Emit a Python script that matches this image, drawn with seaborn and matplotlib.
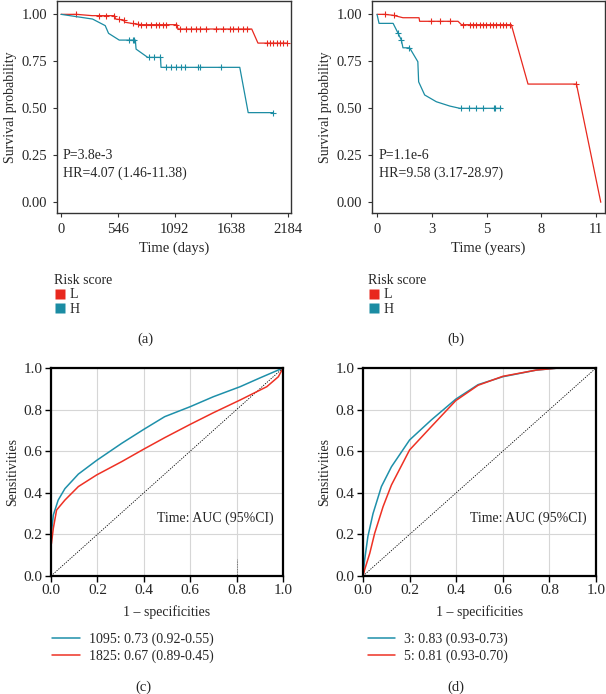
import numpy as np
import pandas as pd
import matplotlib
matplotlib.use("Agg")
import matplotlib.pyplot as plt
from matplotlib.lines import Line2D
import seaborn as sns

# ---- KM panel (a): days ----
a_L_time = [0, 150, 300, 515, 525, 600, 615, 700, 770, 1115, 1125, 1835, 1895, 2171]
a_L_surv = [1.0, 1.0, 0.993, 0.993, 0.975, 0.97, 0.958, 0.95, 0.945, 0.945, 0.922, 0.922, 0.847, 0.847]
a_L_cens_t = [142, 367, 432, 512, 560, 609, 689, 737, 770, 818, 867, 915, 947, 979, 1012, 1108,
              1140, 1205, 1253, 1301, 1334, 1398, 1495, 1559, 1624, 1656, 1704, 1753, 1785,
              1978, 2010, 2042, 2075, 2107, 2139, 2171]
a_L_cens_s = [1.0, 0.993, 0.993, 0.993, 0.975, 0.97, 0.952, 0.948, 0.945, 0.945, 0.945, 0.945, 0.945, 0.945, 0.945, 0.945,
              0.922, 0.922, 0.922, 0.922, 0.922, 0.922, 0.922, 0.922, 0.922, 0.922, 0.922, 0.922, 0.922,
              0.847, 0.847, 0.847, 0.847, 0.847, 0.847, 0.847]

a_H_time = [0, 303, 425, 457, 560, 715, 722, 834, 957, 962, 1720, 1801, 2042]
a_H_surv = [1.0, 0.975, 0.94, 0.899, 0.863, 0.863, 0.815, 0.771, 0.771, 0.718, 0.718, 0.477, 0.477]
a_H_cens_t = [657, 689, 705, 850, 899, 957, 1012, 1060, 1108, 1157, 1189, 1317, 1334, 1543, 2042]
a_H_cens_s = [0.863, 0.863, 0.863, 0.771, 0.771, 0.771, 0.718, 0.718, 0.718, 0.718, 0.718, 0.718, 0.718, 0.718, 0.477]

# ---- KM panel (b): years ----
b_L_time = [0, 0.38, 0.8, 1.29, 2.09, 2.12, 4.03, 4.20, 6.68, 7.51, 9.92, 11.13]
b_L_surv = [1.0, 1.0, 0.995, 0.982, 0.982, 0.963, 0.963, 0.945, 0.945, 0.629, 0.629, 0.0]
b_L_cens_t = [0.38, 0.83, 2.70, 3.12, 3.62, 4.28, 4.61, 4.78, 4.94, 5.11, 5.27, 5.44, 5.60,
              5.77, 5.94, 6.10, 6.27, 6.43, 6.60, 9.92]
b_L_cens_s = [1.0, 0.995, 0.963, 0.963, 0.963, 0.945, 0.945, 0.945, 0.945, 0.945, 0.945, 0.945, 0.945,
              0.945, 0.945, 0.945, 0.945, 0.945, 0.945, 0.629]

b_H_time = [0, 0.10, 0.80, 1.05, 1.21, 1.29, 1.62, 2.03, 2.07, 2.37, 2.95, 3.62, 4.12, 6.18]
b_H_surv = [1.0, 0.952, 0.952, 0.899, 0.863, 0.822, 0.822, 0.748, 0.641, 0.571, 0.535, 0.512, 0.50, 0.50]
b_H_cens_t = [1.05, 1.21, 1.60, 4.20, 4.56, 4.94, 5.27, 5.80, 5.89, 6.10]
b_H_cens_s = [0.899, 0.863, 0.822, 0.50, 0.50, 0.50, 0.50, 0.50, 0.50, 0.50]

b_tick_pos = [0, 2.73, 5.45, 8.18, 10.9]
b_tick_lab = ["0", "3", "5", "8", "11"]

# ---- ROC panel (c) ----
c1_fpr = [0, 0, 0.003, 0.01, 0.031, 0.06, 0.118, 0.197, 0.305, 0.4, 0.49, 0.6, 0.7, 0.815, 0.9, 1.0]
c1_tpr = [0, 0.17, 0.221, 0.293, 0.365, 0.42, 0.49, 0.556, 0.638, 0.705, 0.766, 0.814, 0.862, 0.91, 0.952, 1.0]
c2_fpr = [0, 0, 0.002, 0.01, 0.024, 0.06, 0.118, 0.197, 0.305, 0.4, 0.49, 0.6, 0.7, 0.815, 0.93, 0.98, 1.0]
c2_tpr = [0, 0.15, 0.157, 0.229, 0.317, 0.365, 0.43, 0.486, 0.55, 0.61, 0.665, 0.729, 0.785, 0.846, 0.91, 0.958, 1.0]

# ---- ROC panel (d) ----
d1_fpr = [0, 0.007, 0.021, 0.043, 0.079, 0.122, 0.2, 0.293, 0.398, 0.494, 0.6, 0.744, 0.84, 1.0]
d1_tpr = [0, 0.077, 0.19, 0.30, 0.43, 0.525, 0.654, 0.75, 0.85, 0.92, 0.958, 0.99, 1.0, 1.0]
d2_fpr = [0, 0.007, 0.029, 0.05, 0.086, 0.122, 0.2, 0.293, 0.398, 0.494, 0.6, 0.744, 0.84, 1.0]
d2_tpr = [0, 0.03, 0.109, 0.205, 0.333, 0.4375, 0.606, 0.718, 0.843, 0.917, 0.96, 0.99, 1.0, 1.0]

RED = "#E8281E"
TEAL = "#1B8CA3"
ROC_RED = "#EE3124"
ROC_TEAL = "#1E90AA"

sns.set_theme(style="white")
plt.rcParams["font.family"] = ["Liberation Serif", "DejaVu Serif"]
plt.rcParams["axes.edgecolor"] = "#333333"

fig = plt.figure(figsize=(6.06, 6.94), dpi=100)
W, H = 606.0, 694.0


def box(l, r, t, b):
    return [l / W, 1 - b / H, (r - l) / W, (b - t) / H]


ax_a = fig.add_axes(box(57, 291, 1, 213))
ax_b = fig.add_axes(box(372, 605, 1, 213))
ax_c = fig.add_axes(box(51, 283, 368, 576))
ax_d = fig.add_axes(box(363, 596, 368, 576))


def km(ax, t, s, ct, cs, color):
    sns.lineplot(x=t, y=s, ax=ax, color=color, lw=0.9, sort=False, estimator=None)
    ax.plot(ct, cs, ls="none", marker="+", ms=4.5, mew=0.8, color=color)


km(ax_a, a_L_time, a_L_surv, a_L_cens_t, a_L_cens_s, RED)
km(ax_a, a_H_time, a_H_surv, a_H_cens_t, a_H_cens_s, TEAL)
km(ax_b, b_L_time, b_L_surv, b_L_cens_t, b_L_cens_s, RED)
km(ax_b, b_H_time, b_H_surv, b_H_cens_t, b_H_cens_s, TEAL)

for ax in (ax_a, ax_b):
    ax.set_ylim(-0.057, 1.071)
    ax.set_yticks([0, 0.25, 0.5, 0.75, 1.0])
    ax.set_yticklabels(["0.00", "0.25", "0.50", "0.75", "1.00"])
    ax.set_ylabel("Survival probability", fontsize=10, labelpad=3)
    ax.tick_params(axis="both", direction="out", length=3, width=0.8, color="#333333",
                   labelsize=10.5, pad=4, bottom=True, left=True)
    for sp in ax.spines.values():
        sp.set_linewidth(1.0)

ax_a.set_xlim(-39, 2213)
ax_a.set_xticks([0, 546, 1092, 1638, 2184])
ax_a.set_xlabel("Time (days)", fontsize=10.5, labelpad=4)
ax_b.set_xlim(-0.25, 11.34)
ax_b.set_xticks(b_tick_pos)
ax_b.set_xticklabels(b_tick_lab)
ax_b.set_xlabel("Time (years)", fontsize=10.5, labelpad=4)

ax_a.text(15, 0.25, "P=3.8e-3", fontsize=10, va="center")
ax_a.text(15, 0.155, "HR=4.07 (1.46-11.38)", fontsize=10, va="center")
ax_b.text(0.08, 0.25, "P=1.1e-6", fontsize=10, va="center")
ax_b.text(0.08, 0.155, "HR=9.58 (3.17-28.97)", fontsize=10, va="center")

for x0, lab_x, tag in ((58, 145, "a"), (372, 456, "b")):
    handles = [Line2D([], [], ls="none", marker="s", ms=6.5, color=RED, mec="none"),
               Line2D([], [], ls="none", marker="s", ms=6.5, color=TEAL, mec="none")]
    fig.legend(handles, ["L", "H"], title="Risk score", loc="upper left",
               bbox_to_anchor=(x0 / W - 0.006, 1 - 274 / H), frameon=False, alignment="left",
               fontsize=10, title_fontsize=10, handlelength=0.8, handletextpad=0.3,
               labelspacing=0.1, borderpad=0, borderaxespad=0)
    fig.text(lab_x / W, 1 - 339 / H, "(%s)" % tag, fontsize=10.5, ha="center", va="center")


# ---- ROC panels ----
def roc(ax, f1, t1, f2, t2, labs, lx):
    ax.grid(True, color="#d6d6d6", lw=0.8)
    ax.set_axisbelow(True)
    ax.plot([0, 1], [0, 1], color="black", lw=0.6, ls=(0, (1.5, 1.5)))
    sns.lineplot(x=f1, y=t1, ax=ax, color=ROC_TEAL, lw=1.1, sort=False, estimator=None, label=labs[0])
    sns.lineplot(x=f2, y=t2, ax=ax, color=ROC_RED, lw=1.1, sort=False, estimator=None, label=labs[1])
    ax.set_xlim(0, 1)
    ax.set_ylim(0, 1)
    ax.set_xticks(np.arange(0, 1.01, 0.2))
    ax.set_yticks(np.arange(0, 1.01, 0.2))
    ax.xaxis.set_major_formatter(matplotlib.ticker.FormatStrFormatter("%.1f"))
    ax.yaxis.set_major_formatter(matplotlib.ticker.FormatStrFormatter("%.1f"))
    ax.tick_params(axis="both", direction="out", length=4, width=1.0, color="black",
                   labelsize=11, pad=2, bottom=True, left=True)
    for sp in ax.spines.values():
        sp.set_linewidth(1.6)
        sp.set_color("black")
    ax.set_xlabel("1 \u2013 specificities", fontsize=10, labelpad=6)
    ax.set_ylabel("Sensitivities", fontsize=10, labelpad=3)
    ax.text(0.96, 0.28, "Time: AUC (95%CI)", fontsize=10, ha="right", va="center")
    ax.legend(loc="upper left", bbox_to_anchor=(lx, -0.27), frameon=False, fontsize=10,
              handlelength=2.0, handletextpad=0.65, labelspacing=0.3, borderpad=0, borderaxespad=0)


roc(ax_c, c1_fpr, c1_tpr, c2_fpr, c2_tpr, ["1095: 0.73 (0.92-0.55)", "1825: 0.67 (0.89-0.45)"], 0.005)
roc(ax_d, d1_fpr, d1_tpr, d2_fpr, d2_tpr, ["3: 0.83 (0.93-0.73)", "5: 0.81 (0.93-0.70)"], 0.02)

# small artifact near x=0.8
ax_c.plot([0.8, 0.8], [0, 0.08], color="#555555", lw=0.6, ls=(0, (1, 1)))

fig.text(143 / W, 1 - 687 / H, "(c)", fontsize=10.5, ha="center", va="center")
fig.text(456 / W, 1 - 687 / H, "(d)", fontsize=10.5, ha="center", va="center")

fig.savefig("out.png", dpi=100)
